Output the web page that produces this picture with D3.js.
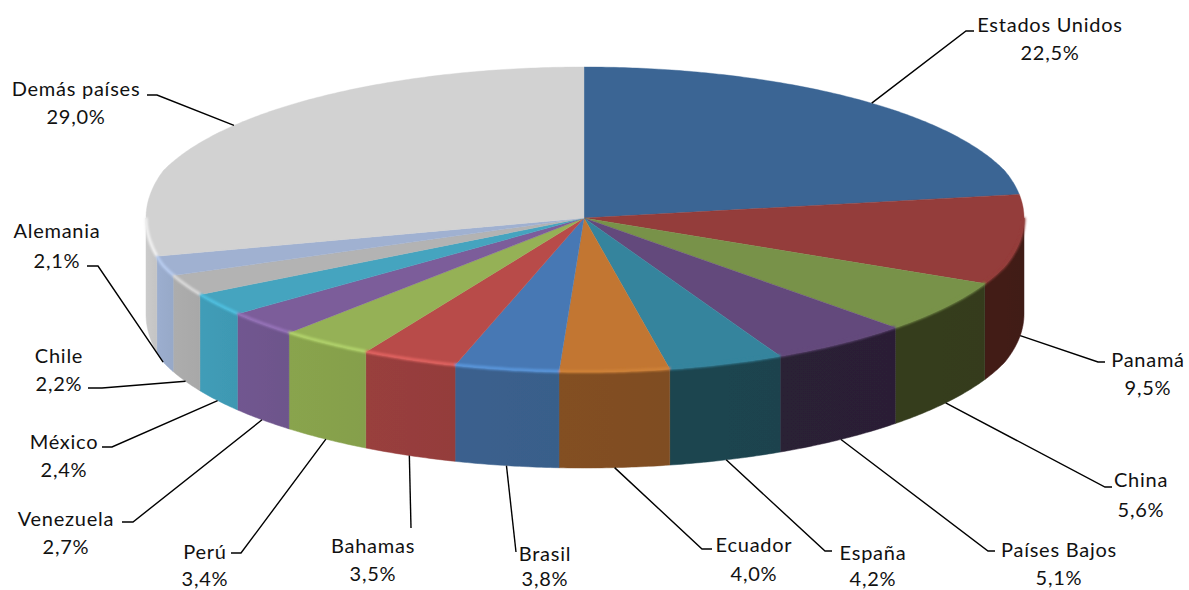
<!DOCTYPE html>
<html><head><meta charset="utf-8">
<script src="https://cdn.jsdelivr.net/npm/d3@7/dist/d3.min.js"></script>
<style>html,body{margin:0;padding:0;background:#fff;overflow:hidden}svg{display:block}
text{font-family:Lato,"Open Sans",sans-serif;font-size:20px;fill:#111;letter-spacing:.75px}</style>
</head><body><svg id="c" width="1189" height="590"></svg>
<script>
const categories=["Estados Unidos","Panamá","China","Países Bajos","España","Ecuador","Brasil","Bahamas","Perú","Venezuela","México","Chile","Alemania","Demás países"];
const values=[22.5,9.5,5.6,5.1,4.2,4.0,3.8,3.5,3.4,2.7,2.4,2.2,2.1,29.0];
const topColors=["#3b6594","#943c3a","#78924a","#644a7c","#35849d","#c27633","#4778b4","#b84c4a","#95b157","#7c5d9a","#44a4bf","#b3b3b3","#a0b1d1","#d2d2d2"];
const wallColors=["#3a1a18","#421a18","#353c1e","#2b2035","#1c444f","#814e22","#3a608c","#973e3c","#87a24c","#6f568e","#3f9bb5","#ababab","#9aaccc","#c8c8c8"];
const rimColors=["#3b6594","#943c3a","#78924a","#644a7c","#35849d","#cf8238","#5a97dd","#e26361","#b2d46c","#9673b9","#4fc0e0","#dadada","#b8ccef","#f2f2f2"];
// layout: elbow point, label centre, name baseline, value baseline
const labelLayout=[
 {e:[966,31],t:[974,31],cx:1050,y1:32,y2:60},
 {e:[1098,362],t:[1105,362],cx:1148,y1:367,y2:395},
 {e:[1105,487],t:[1112,487],cx:1141,y1:487,y2:517},
 {e:[988,551],t:[995,551],cx:1059,y1:557,y2:585},
 {e:[825,551],t:[832,551],cx:873,y1:560,y2:586},
 {e:[702,549],t:[712,549],cx:754,y1:552,y2:581},
 {e:[516,552],t:null,cx:545,y1:561,y2:586},
 {e:[411,528],t:null,cx:373,y1:553,y2:581},
 {e:[241,553],t:[231,553],cx:205,y1:559,y2:586},
 {e:[133,522],t:[122,522],cx:66,y1:526,y2:554},
 {e:[112,447],t:[102,447],cx:64,y1:449,y2:477},
 {e:[102,388],t:[88,388],cx:59,y1:363,y2:391},
 {e:[98,266],t:[87,266],cx:57,y1:238,y2:268},
 {e:[157,95],t:[147,95],cx:76,y1:96,y2:124}
];
const cx=584,cy=218,rx=443,ryBack=151,ryFront=154,depth=96;
const sx=d3.scaleLinear().domain([-1,-0.95,0.95,1]).range([146,cx-0.95*rx,cx+0.95*rx,1024]);
const sy=d3.scaleLinear().domain([-1,0,1]).range([cy+ryFront,cy,cy-ryBack]);
const px=a=>sx(Math.sin(a)), py=a=>sy(Math.cos(a));
const line=d3.line();
const arcs=d3.pie().value(d=>d).sort(null)(values);
const arcPts=(a0,a1,dy=0)=>{const n=Math.max(2,Math.ceil((a1-a0)/0.01));
  return d3.range(n+1).map(i=>{const a=a0+(a1-a0)*i/n;return [px(a),py(a)+dy];});};
const svg=d3.select("#c");
const defs=svg.append("defs");
defs.append("filter").attr("id","soft").attr("x","-5%").attr("y","-5%").attr("width","110%").attr("height","110%")
  .append("feGaussianBlur").attr("stdDeviation",0.45);
defs.append("filter").attr("id","rim").attr("filterUnits","userSpaceOnUse").attr("x",0).attr("y",0).attr("width",1189).attr("height",590)
  .append("feGaussianBlur").attr("stdDeviation",1);
const pie3d=svg.append("g").attr("filter","url(#soft)");
const PI=Math.PI;
const front=arcs.map((d,i)=>({i,a0:Math.max(d.startAngle,PI/2),a1:Math.min(d.endAngle,3*PI/2)})).filter(d=>d.a1>d.a0);
front.forEach(d=>{
  const g=defs.append("linearGradient").attr("id","w"+d.i).attr("gradientUnits","userSpaceOnUse")
    .attr("x1",px(d.a0)).attr("x2",px(d.a1)).attr("y1",0).attr("y2",0);
  const c=d3.color(wallColors[d.i]);
  g.append("stop").attr("offset",0).attr("stop-color",c.darker(0.05));
  g.append("stop").attr("offset",1).attr("stop-color",c.brighter(0.04));
});
pie3d.selectAll("path.wall").data(front).join("path").attr("class","wall")
  .attr("d",d=>line(arcPts(d.a0,d.a1).concat(arcPts(d.a0,d.a1,depth).reverse()))+"Z")
  .attr("fill",d=>`url(#w${d.i})`).attr("stroke",d=>`url(#w${d.i})`).attr("stroke-width",0.5);
pie3d.selectAll("path.top").data(arcs).join("path").attr("class","top")
  .attr("d",d=>line([[cx,cy]].concat(arcPts(d.startAngle,d.endAngle)))+"Z")
  .attr("fill",(d,i)=>topColors[i]).attr("stroke",(d,i)=>topColors[i]).attr("stroke-width",0.4);
svg.append("g").attr("filter","url(#rim)").selectAll("path").data(front).join("path")
  .attr("d",d=>line(arcPts(d.a0,d.a1,-0.5))).attr("fill","none").attr("stroke-width",3)
  .attr("stroke",d=>rimColors[d.i]);
const leaders=svg.append("g").attr("fill","none").attr("stroke","#000").attr("stroke-width",1.4);
leaders.selectAll("path").data(arcs).join("path").attr("d",(d,i)=>{
  const m=(d.startAngle+d.endAngle)/2, onFront=m>PI/2&&m<3*PI/2;
  const start=[px(m),py(m)+(onFront?depth:0)], l=labelLayout[i];
  return line(l.t?[start,l.e,l.t]:[start,l.e]);
});
const fmt=v=>v.toFixed(1).replace(".",",")+"%";
const lab=svg.append("g").attr("text-anchor","middle");
categories.forEach((c,i)=>{
  const l=labelLayout[i];
  lab.append("text").attr("x",l.cx).attr("y",l.y1).text(c);
  lab.append("text").attr("x",l.cx).attr("y",l.y2).text(fmt(values[i]));
});
</script></body></html>
